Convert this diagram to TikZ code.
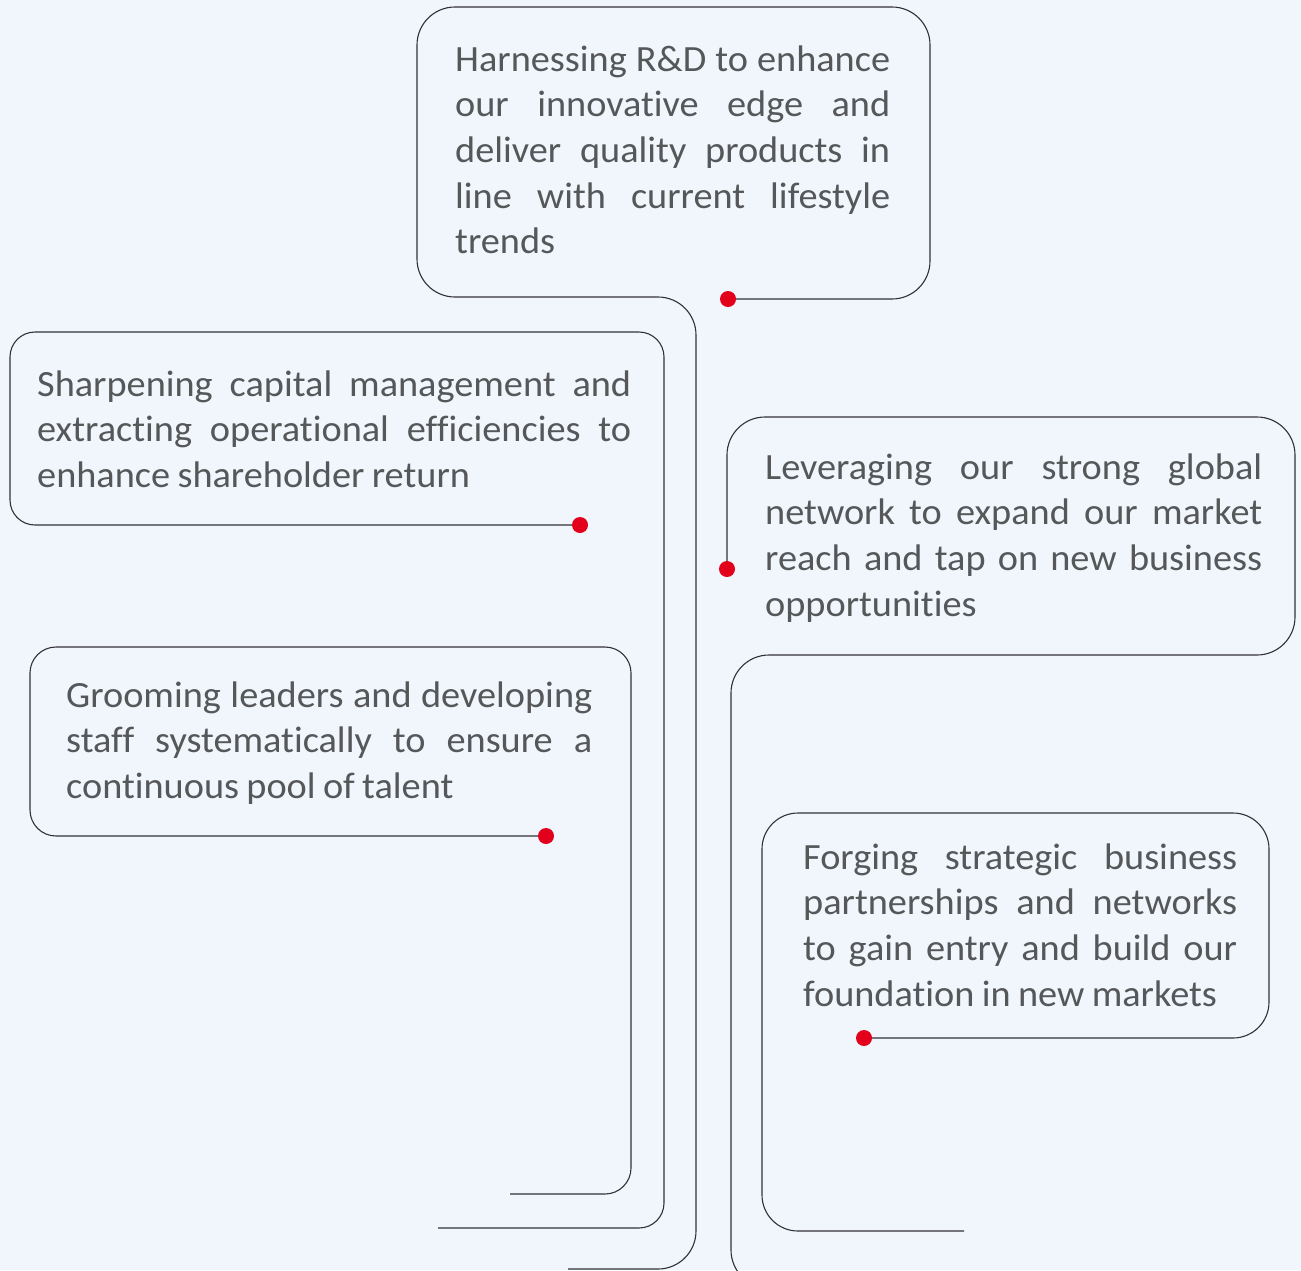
\documentclass[tikz,border=0pt]{standalone}
\usepackage{fontspec}
\setmainfont[FakeStretch=1.035, Ligatures=NoCommon, WordSpace={0.85,1,1.3}]{Carlito}
\definecolor{paper}{RGB}{240,246,252}
\definecolor{inkgrey}{RGB}{85,87,89}
\definecolor{wiregrey}{RGB}{50,50,54}
\definecolor{pinred}{RGB}{226,0,26}
\newcommand{\blurbfont}{\fontsize{37}{45.7}\selectfont\hyphenpenalty=10000 \tolerance=10000 \hbadness=10000 }
\tikzset{
  wire/.style={draw=wiregrey, line width=1.1pt},
  pin/.style={circle, fill=pinred, inner sep=0pt, minimum size=16pt},
  blurb/.style={anchor=base west, text=inkgrey, align=justify, inner sep=0pt, font=\blurbfont},
}
\begin{document}
\begin{tikzpicture}[x=1pt,y=-1pt]
\fill[paper] (0,0) rectangle (1301,1270);
\useasboundingbox (0,0) rectangle (1301,1270);
\clip (0,0) rectangle (1301,1270);

% the five aims
\node[blurb, text width=435pt] (rd) at (455,71) {Harnessing R\&D to enhance\linebreak our innovative edge and\linebreak deliver quality products in\linebreak line with current lifestyle\linebreak trends};
\node[blurb, text width=594pt] (capital) at (37,396) {Sharpening capital management and\linebreak extracting operational efficiencies to\linebreak enhance shareholder return};
\node[blurb, text width=497pt] (reach) at (765,479) {Leveraging our strong global\linebreak network to expand our market\linebreak reach and tap on new business\linebreak opportunities};
\node[blurb, text width=526pt] (talent) at (66,707) {Grooming leaders and developing\linebreak staff systematically to ensure a\linebreak continuous pool of talent};
\node[blurb, text width=434pt] (markets) at (803,869) {Forging strategic business\linebreak partnerships and networks\linebreak to gain entry and build our\linebreak foundation in new markets};

% red pins
\node[pin] (p1) at (728,299) {};
\node[pin] (p2) at (580,525) {};
\node[pin] (p3) at (546,836) {};
\node[pin] (p4) at (727,569) {};
\node[pin] (p5) at (864,1038) {};

% wires: each box is one open line ending in a stem
\draw[wire, rounded corners=38pt] (p1) -- (930,299) -- (930,7) -- (417,7) -- (417,297) -- (696,297) -- (696,1269) -- (568,1269);
\draw[wire, rounded corners=25pt] (p2) -- (10,525) -- (10,332) -- (664,332) -- (664,1228) -- (438,1228);
\draw[wire, rounded corners=26pt] (p3) -- (30,836) -- (30,647) -- (631,647) -- (631,1194) -- (510,1194);
\draw[wire, rounded corners=38pt] (p4) -- (727,417) -- (1295,417) -- (1295,655) -- (731,655) -- (731,1288) -- (800,1288);
\draw[wire, rounded corners=36pt] (p5) -- (1269,1038) -- (1269,813) -- (762,813) -- (762,1231) -- (964,1231);
\end{tikzpicture}
\end{document}
